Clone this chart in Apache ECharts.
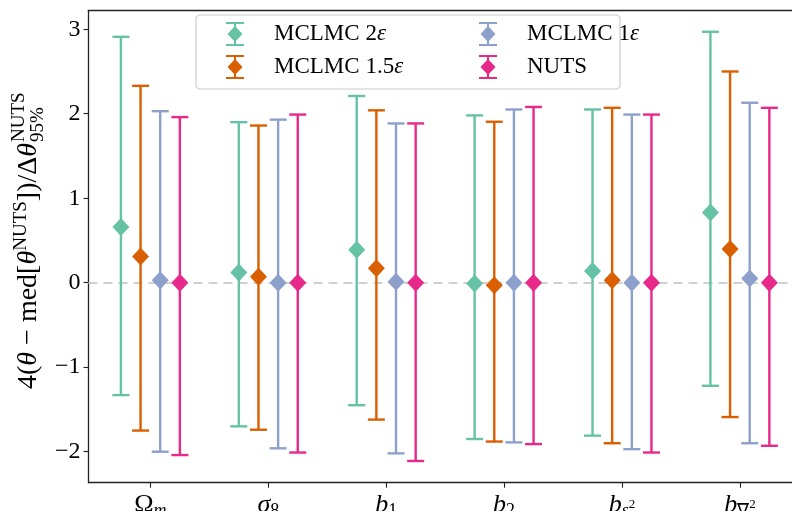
<!DOCTYPE html>
<html><head><meta charset="utf-8">
<script src="https://cdn.jsdelivr.net/npm/echarts@6/dist/echarts.min.js"></script>
<style>html,body{margin:0;padding:0;background:#fff}#c{width:792px;height:511px}</style>
</head><body><div id="c"></div>
<script>
// ---- data ----
const catMain = ['Ω', 'σ', 'b', 'b', 'b', 'b'];
const catSub = ['m', '8', '1', '2', 's', '∇'];
const catSubSup = ['', '', '', '', '2', '2'];
const seriesNames = ['MCLMC 2ε', 'MCLMC 1.5ε', 'MCLMC 1ε', 'NUTS'];
const median2 = [0.66, 0.12, 0.39, -0.01, 0.14, 0.83];
const upper2 = [2.91, 1.90, 2.21, 1.98, 2.05, 2.97];
const lower2 = [-1.33, -1.70, -1.45, -1.85, -1.81, -1.22];
const median15 = [0.31, 0.07, 0.17, -0.03, 0.03, 0.40];
const upper15 = [2.33, 1.86, 2.04, 1.905, 2.07, 2.50];
const lower15 = [-1.75, -1.74, -1.62, -1.88, -1.90, -1.59];
const median1 = [0.03, 0.00, 0.01, 0.00, 0.00, 0.05];
const upper1 = [2.03, 1.93, 1.885, 2.05, 1.99, 2.13];
const lower1 = [-2.00, -1.96, -2.02, -1.89, -1.97, -1.90];
const medianN = [0, 0, 0, 0, 0, 0];
const upperN = [1.96, 1.99, 1.885, 2.08, 1.99, 2.07];
const lowerN = [-2.04, -2.01, -2.11, -1.91, -2.01, -1.93];
const yTicks = [-2, -1, 0, 1, 2, 3];

// ---- layout / style ----
const medians = [median2, median15, median1, medianN];
const uppers = [upper2, upper15, upper1, upperN];
const lowers = [lower2, lower15, lower1, lowerN];
const offsets = [-0.25, -1 / 12, 1 / 12, 0.25];
const colors = ['#66c2a5', '#d95f02', '#8da0cb', '#e7298a'];
const FONT = 'Liberation Serif';
const AX = '#222';
const iconPath = 'path://M0,0L18,0L18,2L0,2Z M8,0L10,0L10,24L8,24Z M0,22L18,22L18,24L0,24Z M9,4L16.5,12L9,20L1.5,12Z';

const chart = echarts.init(document.getElementById('c'), null, {renderer: 'canvas'});

function errItem(color) {
  return function (params, api) {
    const x = api.value(0), lo = api.value(1), hi = api.value(2);
    const a = api.coord([x, lo]), b = api.coord([x, hi]);
    const h = 8.5;
    const st = {stroke: color, lineWidth: 2.4};
    return {type: 'group', children: [
      {type: 'line', shape: {x1: a[0], y1: a[1], x2: b[0], y2: b[1]}, style: st},
      {type: 'line', shape: {x1: a[0] - h, y1: a[1], x2: a[0] + h, y2: a[1]}, style: st},
      {type: 'line', shape: {x1: b[0] - h, y1: b[1], x2: b[0] + h, y2: b[1]}, style: st}
    ]};
  };
}

const series = [{
  type: 'line', data: [], silent: true, z: 1,
  markLine: {silent: true, symbol: 'none', z: 1, label: {show: false},
    lineStyle: {color: '#cfcfcf', type: [9, 6], width: 2.2},
    data: [{yAxis: 0}]}
}];
seriesNames.forEach((name, k) => {
  const eb = [], md = [];
  for (let i = 0; i < catMain.length; i++) {
    eb.push([i + offsets[k], lowers[k][i], uppers[k][i]]);
    md.push([i + offsets[k], medians[k][i]]);
  }
  series.push({
    type: 'custom', name, data: eb, z: 2 + 2 * k, silent: true,
    itemStyle: {color: colors[k]}, renderItem: errItem(colors[k]),
    encode: {x: 0, y: [1, 2]}
  });
  series.push({
    type: 'scatter', name, data: md, z: 3 + 2 * k, silent: true,
    symbol: 'diamond', symbolSize: [17, 18], itemStyle: {color: colors[k], opacity: 1}
  });
});

const xRich = {
  m: {fontFamily: FONT, fontSize: 26, fontStyle: 'italic', color: '#000'},
  u: {fontFamily: FONT, fontSize: 26, color: '#000'},
  si: {fontFamily: FONT, fontSize: 18, fontStyle: 'italic', color: '#000', padding: [13, 0, 0, 0]},
  su: {fontFamily: FONT, fontSize: 18, color: '#000', padding: [13, 0, 0, 0]},
  ss: {fontFamily: FONT, fontSize: 13, color: '#000', padding: [0, 0, 2, 0]}
};
function xLabel(v) {
  const i = Math.round(v);
  const mainTag = catMain[i] === 'Ω' ? 'u' : 'm';
  const subTag = (catSub[i] === 'm' || catSub[i] === 's') ? 'si' : 'su';
  let s = '{' + mainTag + '|' + catMain[i] + '}{' + subTag + '|' + catSub[i] + '}';
  if (catSubSup[i]) s += '{ss|' + catSubSup[i] + '}';
  return s;
}

const legendCommon = {
  orient: 'vertical', itemWidth: 18, itemHeight: 24, itemGap: 9, z: 6,
  selectedMode: false,
  formatter: n => n.replace('ε', '{e|ε}'),
  textStyle: {fontFamily: FONT, fontSize: 23, color: '#000', padding: [0, 0, 0, 25],
    rich: {e: {fontFamily: FONT, fontSize: 23, fontStyle: 'italic', color: '#000'}}}
};

const yMainRich = {
  n: {fontFamily: FONT, fontSize: 28, color: '#000'},
  i: {fontFamily: FONT, fontSize: 28, fontStyle: 'italic', color: '#000'},
  p: {fontFamily: FONT, fontSize: 19, color: '#000', padding: [0, 0, 16, 0]}
};

chart.setOption({
  animation: false,
  backgroundColor: '#fff',
  grid: {left: 88.5, top: 10.3, right: 0, bottom: 28.3, containLabel: false, outerBoundsMode: 'none'},
  xAxis: [{
    type: 'value', min: -0.525, max: 5.442,
    axisLine: {show: true, onZero: false, lineStyle: {color: AX, width: 1.3}},
    axisTick: {show: true, length: 5, customValues: [0, 1, 2, 3, 4, 5], lineStyle: {color: AX, width: 1.1}},
    axisLabel: {customValues: [0, 1, 2, 3, 4, 5], formatter: xLabel, rich: xRich, margin: 7},
    splitLine: {show: false}
  }, {
    type: 'value', position: 'top', min: -0.525, max: 5.442,
    axisLine: {show: true, onZero: false, lineStyle: {color: AX, width: 1.3}},
    axisTick: {show: false}, axisLabel: {show: false}, splitLine: {show: false}
  }],
  yAxis: {
    type: 'value', min: -2.367, max: 3.224,
    axisLine: {show: true, onZero: false, lineStyle: {color: AX, width: 1.3}},
    axisTick: {show: true, length: 5, customValues: yTicks, lineStyle: {color: AX, width: 1.1}},
    axisLabel: {customValues: yTicks, margin: 8, fontFamily: FONT, fontSize: 24, color: '#000',
      formatter: v => v < 0 ? '−' + Math.abs(v) : String(v)},
    splitLine: {show: false}
  },
  legend: [
    Object.assign({left: 221, top: 17, data: [
      {name: seriesNames[0], icon: iconPath}, {name: seriesNames[1], icon: iconPath}]}, legendCommon),
    Object.assign({left: 474, top: 17, data: [
      {name: seriesNames[2], icon: iconPath}, {name: seriesNames[3], icon: iconPath}]}, legendCommon)
  ],
  graphic: [
    {type: 'rect', z: 5, silent: true, shape: {x: 196, y: 15, width: 424, height: 74, r: 4},
      style: {fill: 'rgba(255,255,255,0.8)', stroke: '#cccccc', lineWidth: 1.2}},
    {type: 'group', x: 29, y: 143, rotation: Math.PI / 2, silent: true, children: [
      {type: 'text', x: 0, y: 0, style: {
        text: '{n|4(}{i|θ}{n| − med[}{i|θ}{p|NUTS}{n|])/Δ}{i|θ}',
        rich: yMainRich, align: 'right', verticalAlign: 'middle'}},
      {type: 'text', x: 1, y: -10, style: {text: 'NUTS', fontFamily: FONT, fontSize: 19, fill: '#000',
        align: 'left', verticalAlign: 'middle'}},
      {type: 'text', x: 1, y: 9, style: {text: '95%', fontFamily: FONT, fontSize: 19, fill: '#000',
        align: 'left', verticalAlign: 'middle'}}
    ]}
  ],
  series
});
</script></body></html>
